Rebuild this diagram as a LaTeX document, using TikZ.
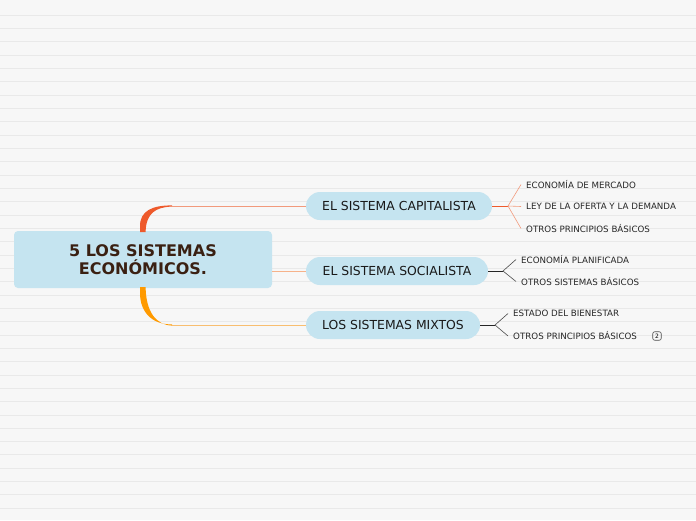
\documentclass[tikz,border=0pt]{standalone}
\usepackage{fontspec}
\setmainfont{DejaVu Sans}
\usepackage{tikz}
\usetikzlibrary{calc}

\definecolor{paper}{HTML}{F7F7F7}
\definecolor{rule}{HTML}{E9E9E9}
\definecolor{bubble}{HTML}{C5E4F0}
\definecolor{topic}{HTML}{3A2012}
\definecolor{capred}{HTML}{EE5A2C}
\definecolor{caplight}{HTML}{F29A7C}
\definecolor{socline}{HTML}{F6B28A}
\definecolor{mixorange}{HTML}{FF9A00}
\definecolor{mixlight}{HTML}{F8BE70}

\tikzset{
  maintopic/.style={fill=bubble,rounded corners=4pt,minimum width=258pt,minimum height=57pt,
    align=center,text=topic,font=\fontsize{16}{17.5}\selectfont\bfseries,inner sep=0pt},
  subtopic/.style={fill=bubble,rounded corners=14pt,minimum height=28pt,inner sep=0pt,
    text=black!90,font=\fontsize{12.4}{14}\selectfont},
  leaf/.style={anchor=west,inner sep=0pt,text=black!85,font=\fontsize{8.7}{10}\selectfont},
  badge/.style={draw=black!70,rounded corners=2pt,minimum size=8.5pt,inner sep=0pt,line width=0.6pt,
    font=\fontsize{6}{6}\selectfont}
}

\begin{document}
\begin{tikzpicture}[x=1pt,y=-1pt]
\useasboundingbox (0,0) rectangle (696,520);
% paper
\path[fill=paper] (0,0) rectangle (696,520);
\foreach \k in {0,...,38}
  \path[draw=rule,line width=0.8pt] (0,15+13.33*\k) -- (696,15+13.33*\k);

% topics
\node[maintopic] (econ) at (143,259.5) {5 LOS SISTEMAS\\ECONÓMICOS.};
\node[subtopic,minimum width=186pt] (capit) at (399,206) {EL SISTEMA CAPITALISTA};
\node[subtopic,minimum width=182pt] (social) at (397,271) {EL SISTEMA SOCIALISTA};
\node[subtopic,minimum width=174pt] (mixto) at (393,325) {LOS SISTEMAS MIXTOS};

% trunk
\coordinate (capbend) at (172,206);
\coordinate (mixbend) at (172,325);
\path[fill=capred] (140,232) -- (140,226) .. controls (140,211) and (152,205.3) .. (172,205.4)
  -- (172,206.6) .. controls (156,207) and (146,213) .. (145.6,232) -- cycle;
\path[fill=mixorange] (140,287) -- (140,293) .. controls (140,312) and (152,324.7) .. (172,324.4)
  -- (172,325.6) .. controls (156,325) and (146,312) .. (145.6,287) -- cycle;
\path[draw=caplight,line width=0.8pt] (capbend) -- (capit.west);
\path[draw=mixlight,line width=0.8pt] (mixbend) -- (mixto.west);
\path[draw=socline,line width=1pt] (econ.east |- social) -- (social.west);

% capitalista
\coordinate (capfork) at (508,206);
\path[draw=capred,line width=0.9pt] (capit.east) -- (capfork);
\node[leaf] (mercado) at (526,184.5) {ECONOMÍA DE MERCADO};
\node[leaf] (oferta) at (526,206.5) {LEY DE LA OFERTA Y LA DEMANDA};
\node[leaf] (princ1) at (526,228.5) {OTROS PRINCIPIOS BÁSICOS};
\foreach \n in {mercado,oferta,princ1}
  \path[draw=caplight,line width=0.6pt] (capfork) -- ($(\n.west)+(-5,0)$);

% socialista
\coordinate (socfork) at (503,271);
\path[draw=black!85,line width=0.9pt] (social.east) -- (socfork);
\node[leaf] (planif) at (521,259.5) {ECONOMÍA PLANIFICADA};
\node[leaf] (sistb) at (521,281.5) {OTROS SISTEMAS BÁSICOS};
\path[draw=black!70,line width=0.6pt] ($(planif.west)+(-5,0)$) -- (socfork) -- ($(sistb.west)+(-5,0)$);

% mixtos
\coordinate (mixfork) at (495,325);
\path[draw=black!85,line width=0.9pt] (mixto.east) -- (mixfork);
\node[leaf] (bienestar) at (513,313.5) {ESTADO DEL BIENESTAR};
\node[leaf] (princ2) at (513,336) {OTROS PRINCIPIOS BÁSICOS};
\path[draw=black!70,line width=0.6pt] ($(bienestar.west)+(-5,0)$) -- (mixfork) -- ($(princ2.west)+(-5,0)$);
\node[badge] (count) at (657,336) {2};
\end{tikzpicture}
\end{document}
